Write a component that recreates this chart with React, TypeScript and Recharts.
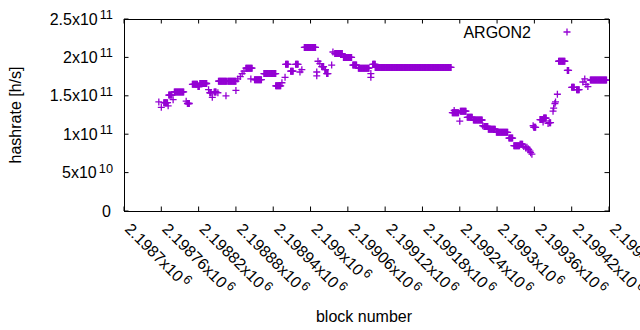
import React from 'react'
import { ScatterChart, Scatter, XAxis, YAxis, ReferenceArea } from 'recharts'

const VIOLET = '#9400d3'
const FONT = '"Liberation Sans", Arial, sans-serif'

// plot box (gnuplot-like frame)
const TOP = 19
const BOTTOM = 211
const LEFT = 124
const RIGHT = 609

const xTicks = [
  2198700, 2198760, 2198820, 2198880, 2198940, 2199000, 2199060,
  2199120, 2199180, 2199240, 2199300, 2199360, 2199420, 2199480,
]
const xTickLabels = [
  '2.1987', '2.19876', '2.19882', '2.19888', '2.19894', '2.199', '2.19906',
  '2.19912', '2.19918', '2.19924', '2.1993', '2.19936', '2.19942', '2.19948',
]

const yTicks = [0, 5e10, 1e11, 1.5e11, 2e11, 2.5e11]
const yTickLabels: [string, string][] = [
  ['0', ''], ['5x10', '10'], ['1x10', '11'], ['1.5x10', '11'], ['2x10', '11'], ['2.5x10', '11'],
]

// runs of blocks with the same hashrate: [first block, last block, hashrate in 1e11 h/s]
const runs: [number, number, number][] = [
  [2198756, 2198756, 1.42],
  [2198760, 2198760, 1.35],
  [2198764, 2198770, 1.41],
  [2198771, 2198771, 1.37],
  [2198772, 2198777, 1.51],
  [2198779, 2198779, 1.45],
  [2198781, 2198796, 1.55],
  [2198800, 2198800, 1.43],
  [2198802, 2198805, 1.4],
  [2198810, 2198818, 1.65],
  [2198819, 2198821, 1.62],
  [2198822, 2198833, 1.66],
  [2198836, 2198836, 1.58],
  [2198838, 2198840, 1.54],
  [2198842, 2198842, 1.48],
  [2198845, 2198848, 1.55],
  [2198851, 2198851, 1.54],
  [2198852, 2198865, 1.69],
  [2198864, 2198864, 1.5],
  [2198867, 2198880, 1.69],
  [2198880, 2198880, 1.57],
  [2198883, 2198883, 1.72],
  [2198887, 2198887, 1.75],
  [2198890, 2198890, 1.79],
  [2198893, 2198893, 1.82],
  [2198896, 2198906, 1.86],
  [2198904, 2198904, 1.72],
  [2198910, 2198921, 1.71],
  [2198925, 2198944, 1.79],
  [2198944, 2198952, 1.63],
  [2198954, 2198954, 1.67],
  [2198959, 2198959, 1.74],
  [2198960, 2198964, 1.91],
  [2198968, 2198972, 1.82],
  [2198976, 2198980, 1.91],
  [2198983, 2198983, 1.81],
  [2198986, 2198986, 1.84],
  [2198990, 2199008, 2.13],
  [2199010, 2199010, 1.81],
  [2199010, 2199010, 1.76],
  [2199012, 2199012, 1.95],
  [2199015, 2199015, 1.92],
  [2199018, 2199021, 1.88],
  [2199023, 2199024, 1.84],
  [2199026, 2199028, 1.79],
  [2199034, 2199034, 1.9],
  [2199036, 2199036, 2.07],
  [2199039, 2199051, 2.05],
  [2199053, 2199066, 2.0],
  [2199068, 2199074, 1.9],
  [2199077, 2199094, 1.86],
  [2199097, 2199097, 1.79],
  [2199097, 2199097, 1.74],
  [2199100, 2199104, 1.91],
  [2199104, 2199226, 1.87],
  [2199228, 2199238, 1.28],
  [2199231, 2199231, 1.31],
  [2199240, 2199240, 1.17],
  [2199241, 2199250, 1.3],
  [2199252, 2199260, 1.22],
  [2199262, 2199276, 1.185],
  [2199277, 2199277, 1.11],
  [2199279, 2199285, 1.1],
  [2199286, 2199297, 1.065],
  [2199299, 2199317, 1.025],
  [2199319, 2199325, 0.95],
  [2199327, 2199336, 0.85],
  [2199337, 2199341, 0.87],
  [2199343, 2199343, 0.84],
  [2199346, 2199346, 0.82],
  [2199348, 2199348, 0.83],
  [2199350, 2199350, 0.81],
  [2199351, 2199351, 0.8],
  [2199353, 2199353, 0.78],
  [2199354, 2199354, 0.76],
  [2199356, 2199356, 0.74],
  [2199358, 2199358, 1.11],
  [2199359, 2199362, 1.09],
  [2199369, 2199373, 1.19],
  [2199374, 2199374, 1.16],
  [2199375, 2199379, 1.21],
  [2199382, 2199382, 1.14],
  [2199384, 2199386, 1.15],
  [2199390, 2199390, 1.3],
  [2199391, 2199391, 1.34],
  [2199393, 2199393, 1.4],
  [2199394, 2199394, 1.42],
  [2199397, 2199397, 1.52],
  [2199399, 2199409, 1.95],
  [2199413, 2199415, 1.83],
  [2199420, 2199424, 1.61],
  [2199428, 2199432, 1.58],
  [2199438, 2199438, 1.68],
  [2199441, 2199441, 1.72],
  [2199443, 2199443, 1.65],
  [2199446, 2199446, 1.62],
  [2199450, 2199476, 1.705],
]

const points = runs.flatMap(([first, last, v]) =>
  Array.from({ length: last - first + 1 }, (_, i) => ({ block: first + i, hashrate: v * 1e11 }))
)

const Plus = (props: any) => {
  const { cx, cy } = props
  if (cx == null || cy == null) return null
  const s = 3.5
  return (
    <path
      d={`M${cx - s},${cy}H${cx + s}M${cx},${cy - s}V${cy + s}`}
      stroke={VIOLET}
      strokeWidth={1.3}
      fill="none"
    />
  )
}

const XTick = (props: any) => {
  const { x, payload } = props
  const i = xTicks.indexOf(payload.value)
  return (
    <g>
      <line x1={x} x2={x} y1={BOTTOM} y2={BOTTOM - 4.5} stroke="#000" />
      <line x1={x} x2={x} y1={TOP} y2={TOP + 4.5} stroke="#000" />
      <text
        transform={`translate(${x},${BOTTOM + 19}) rotate(45)`}
        fontSize={16}
        fontFamily={FONT}
        fill="#000"
      >
        {xTickLabels[i]}x10
        <tspan dx={2} dy={-5.5} fontSize={12.8}>6</tspan>
      </text>
    </g>
  )
}

const YTick = (props: any) => {
  const { y, payload } = props
  const [base, exp] = yTickLabels[yTicks.indexOf(payload.value)]
  return (
    <g>
      <line x1={LEFT} x2={LEFT + 4.5} y1={y} y2={y} stroke="#000" />
      <line x1={RIGHT} x2={RIGHT - 4.5} y1={y} y2={y} stroke="#000" />
      <text x={exp ? 113 : 111} y={y + 5.5} textAnchor="end" fontSize={16} fontFamily={FONT} fill="#000">
        {base}
        {exp && <tspan dx={2} dy={-5.5} fontSize={12.8}>{exp}</tspan>}
      </text>
    </g>
  )
}

const YTitle = () => (
  <text
    transform={`translate(21,${(TOP + BOTTOM) / 2}) rotate(-90)`}
    textAnchor="middle"
    fontSize={16}
    fontFamily={FONT}
    fill="#000"
  >
    hashrate [h/s]
  </text>
)

const XTitle = () => (
  <text x={364} y={322} textAnchor="middle" fontSize={16} fontFamily={FONT} fill="#000">
    block number
  </text>
)

export default function App() {
  return (
    <div style={{ position: 'absolute', left: 0, top: 0, width: 640, height: 330, background: '#fff' }}>
      <ScatterChart width={640} height={330} margin={{ top: TOP, right: 640 - RIGHT, bottom: 0, left: 0 }}>
        <XAxis
          type="number"
          dataKey="block"
          domain={[2198700, 2199480]}
          ticks={xTicks}
          interval={0}
          allowDataOverflow
          height={330 - BOTTOM}
          axisLine={false}
          tickLine={false}
          tick={<XTick />}
          label={<XTitle />}
        />
        <YAxis
          type="number"
          dataKey="hashrate"
          domain={[0, 2.5e11]}
          ticks={yTicks}
          interval={0}
          allowDataOverflow
          width={LEFT}
          axisLine={false}
          tickLine={false}
          tick={<YTick />}
          label={<YTitle />}
        />
        <ReferenceArea
          x1={2198700}
          x2={2199480}
          y1={0}
          y2={2.5e11}
          fill="none"
          fillOpacity={0}
          stroke="#000"
          strokeWidth={1}
          strokeOpacity={1}
          shapeRendering="crispEdges"
        />
        <Scatter data={points} shape={<Plus />} isAnimationActive={false} />
      </ScatterChart>
      <svg
        width={640}
        height={60}
        style={{ position: 'absolute', left: 0, top: 0, pointerEvents: 'none' }}
      >
        <text x={531} y={37.5} textAnchor="end" fontSize={16} fontFamily={FONT} fill="#000">
          ARGON2
        </text>
        <path d="M563.5,32H570.5M567,28.5V35.5" stroke={VIOLET} strokeWidth={1.3} fill="none" />
      </svg>
    </div>
  )
}
